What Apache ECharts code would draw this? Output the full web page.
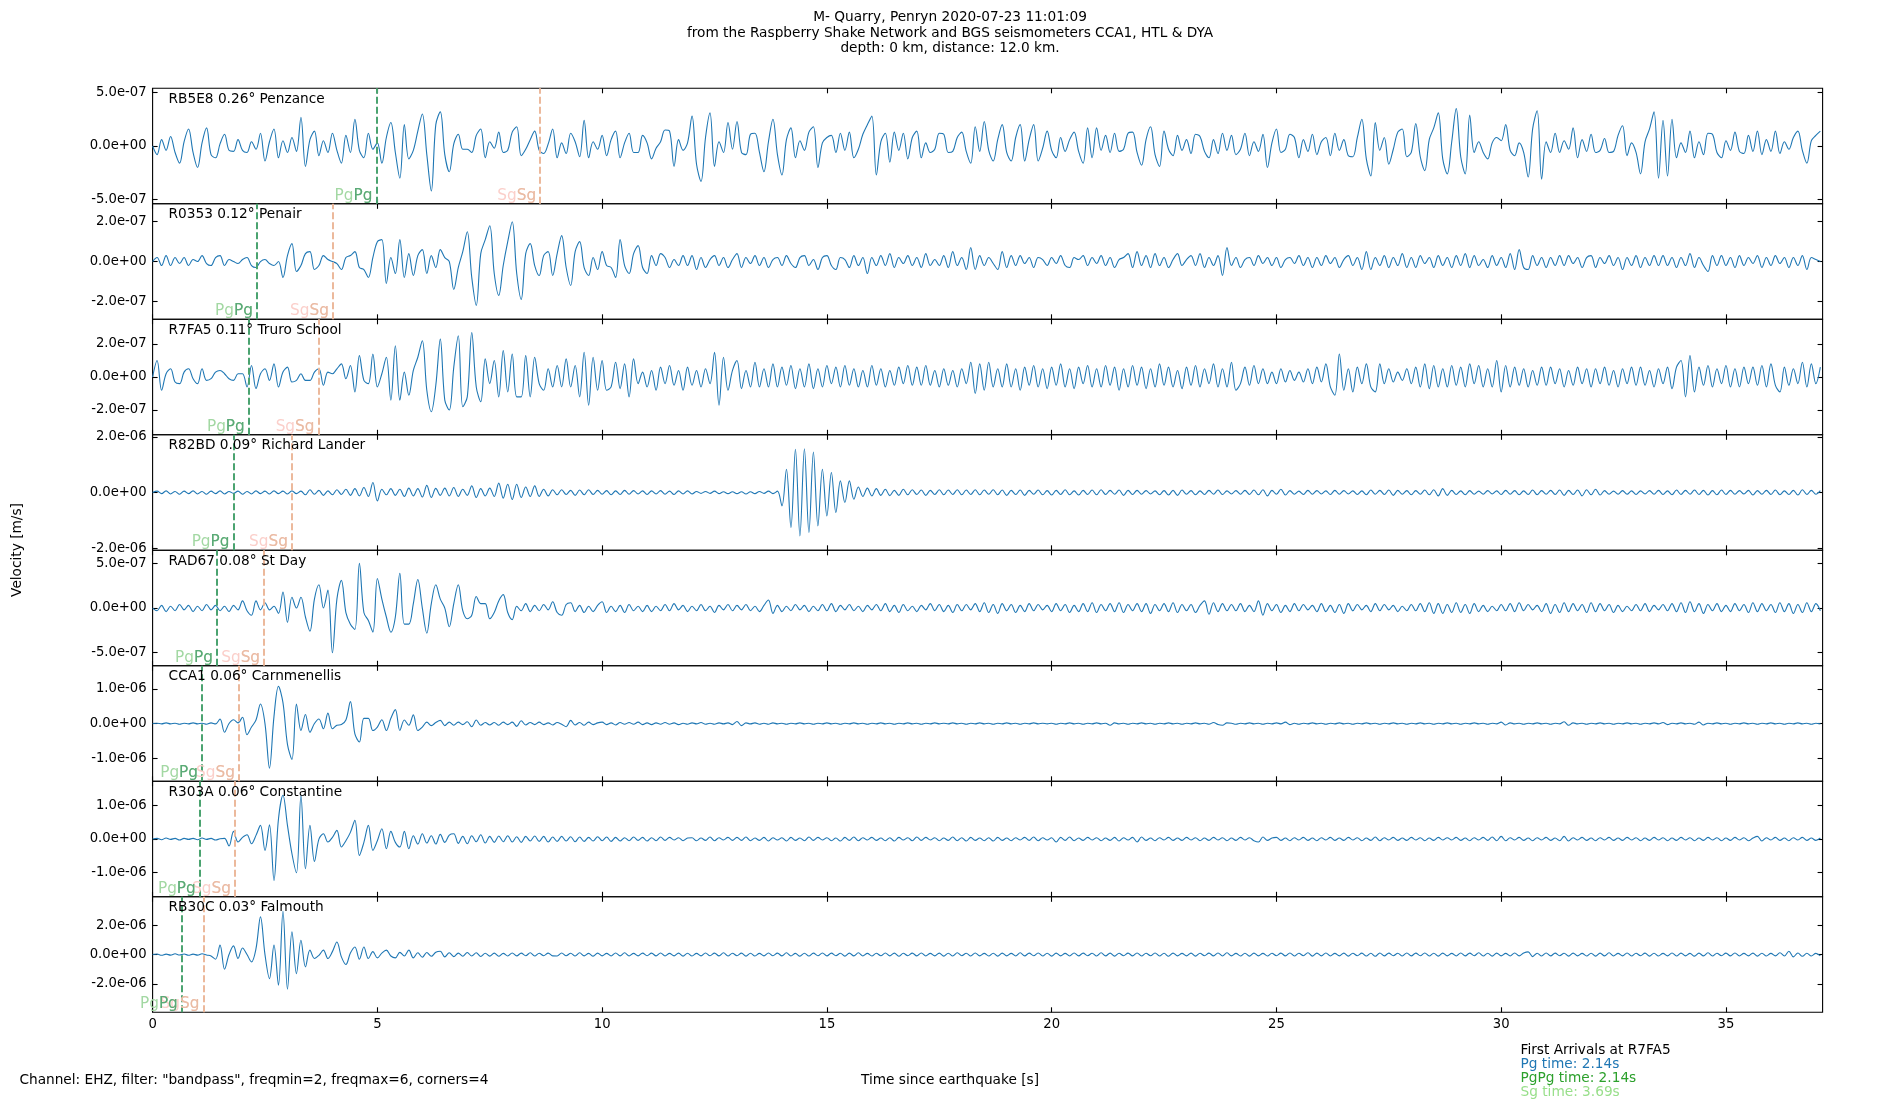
<!DOCTYPE html>
<html><head><meta charset="utf-8">
<script src="https://cdn.jsdelivr.net/npm/echarts@6/dist/echarts.min.js"></script>
<style>html,body{margin:0;padding:0;background:#fff}#c{width:1900px;height:1100px}</style>
</head><body><div id="c"></div>
<script>
const stations = ['RB5E8','R0353','R7FA5','R82BD','RAD67','CCA1','R303A','RB30C'];
const distances = ['0.26','0.12','0.11','0.09','0.08','0.06','0.06','0.03'];
const places = ['Penzance','Penair','Truro School','Richard Lander','St Day','Carnmenellis','Constantine','Falmouth'];
const pgTimes = [4.98,2.32,2.14,1.80,1.43,1.10,1.05,0.65];
const sgTimes = [8.62,4.01,3.69,3.10,2.48,1.92,1.83,1.13];
const yLimits = [5.4e-7,2.9e-7,3.5e-7,2.08e-6,6.46e-7,1.66e-6,1.73e-6,3.94e-6];
const yTicks = [5e-7,2e-7,2e-7,2e-6,5e-7,1e-6,1e-6,2e-6];
const xTicks = [0,5,10,15,20,25,30,35];
const X_MAX = 37.15;
const DT = 0.1;      // sample step of the arrays below [s]
const UNIT = 1e-8;   // arrays are in units of 1e-8 m/s

const trRB5E8 = [
0,-8,6,-4,9,-6,-16,4,16,-6,
-20,3,17,-8,-11,2,11,-4,-5,6,
-4,-6,4,-3,12,-14,4,16,-11,5,
-6,8,-5,27,-19,6,14,-9,5,-6,
12,-4,-16,10,-6,25,-4,-11,12,-3,
3,-16,8,22,-6,-30,20,-12,-4,14,
30,-8,-42,20,32,-8,-24,2,11,-3,
-3,-6,10,16,-11,4,-2,13,-6,-4,
13,18,-9,-3,6,14,-4,-7,2,16,
-11,3,-7,12,4,-10,24,-11,4,-3,
10,-9,6,14,-11,3,12,-6,-6,10,
3,-12,-2,4,15,14,-19,6,-4,3,
28,-17,-33,8,31,-19,4,-6,22,-3,
23,-6,-8,11,12,-6,-24,4,25,-8,
-27,6,17,-11,5,-4,13,18,-20,3,
8,10,-6,12,-4,13,-11,-3,11,20,
28,-27,4,12,-15,13,-4,12,-12,8,
14,-11,3,-6,-3,12,11,-6,-5,8,
13,-5,-16,18,-5,23,-4,-14,6,20,
-6,-14,8,20,-14,6,20,-14,-2,14,
-4,-11,8,-5,6,13,-5,-16,17,-11,
17,-4,10,-6,12,-5,-3,12,13,-6,
-18,6,18,-8,-19,14,-3,-9,10,-4,
6,-7,11,9,-5,-11,6,-7,12,-4,
10,-8,-3,12,-9,4,-5,11,-20,3,
16,-6,-3,11,8,-11,6,-5,11,-8,
4,8,-9,12,-4,6,-9,-10,8,25,
-12,-28,22,-4,8,-17,-3,13,16,-10,
-6,21,-10,-23,6,17,31,-12,-26,4,
35,-10,-26,29,-6,4,-6,-12,3,8,
5,20,-4,-9,3,-6,-29,16,33,-31,
4,-6,12,-6,5,-3,17,-11,6,-5,
11,-6,-4,7,-6,-5,10,19,-9,3,
-6,-26,4,16,32,-30,24,-28,25,-11,
3,-6,14,-11,4,-8,12,11,-6,-11,
5,-4,13,-5,-7,10,-5,14,-8,6,
-5,14,-7,4,-3,8,14,-4,-16,5,
10,14];

const trR0353 = [
0,2,-2,3,-2,2,-1,2,-2,1,
0,3,-1,-2,2,3,-2,1,0,-1,
1,2,-2,-3,0,1,-1,-2,0,-8,
3,9,-5,-2,4,5,-4,-2,3,1,
0,-1,-4,2,3,5,-3,-4,-8,2,
10,11,-11,2,-6,11,-8,4,-7,3,
6,-6,3,-3,6,2,0,-14,-3,5,
15,-8,-22,4,11,18,-6,-17,-2,10,
20,-6,-19,4,9,-2,-7,3,5,-7,
4,13,-3,-12,5,10,-3,-7,2,-4,
5,-2,-3,-8,11,-2,-6,4,8,-3,
-6,3,-2,4,2,-3,1,-2,3,-2,
3,-4,2,-3,1,3,-2,2,-3,1,
4,-3,2,-1,3,-2,2,-3,1,2,
-2,3,-1,-3,2,3,-2,1,-4,2,
3,-2,-4,2,1,-3,3,-2,2,-6,
2,-2,3,-2,4,-3,2,-1,3,-2,
2,-3,4,-2,1,-2,3,-3,5,-2,
2,-4,7,-4,3,-2,2,-1,-4,5,
-3,3,-2,3,-1,2,-3,2,1,-2,
2,-1,3,-2,-3,2,1,3,-2,2,
-1,3,-2,2,-3,1,2,4,-3,5,
-2,3,-3,4,-2,2,-3,1,4,-2,
1,3,-2,4,-3,2,-2,3,-7,7,
-2,2,-3,1,2,-2,3,-1,2,-2,
2,-3,1,2,-1,3,-2,2,-3,2,
-2,3,-1,2,-3,1,3,-2,2,-4,
5,-4,2,-2,3,-3,2,-2,4,-3,
2,-3,3,-1,2,-3,3,-2,2,-3,
3,-2,4,-3,3,-2,1,-3,3,-2,
2,-3,4,-4,6,-3,-4,3,-2,2,
-3,2,-2,3,-2,3,-1,2,-3,2,
3,-3,2,-1,3,-2,2,-4,2,-2,
3,-3,2,-2,3,-2,3,-2,2,-3,
2,-2,4,-3,2,-2,-5,3,-2,3,
-2,2,-3,3,-2,2,-1,3,-3,2,
-2,3,-1,2,-3,2,-2,3,-4,2,
1,0];

const trR7FA5 = [
0,10,-8,2,5,-3,-4,3,5,-1,
-4,5,-2,-1,3,4,2,-1,-2,2,
2,-6,7,-7,2,5,-2,8,-6,3,
6,-3,-2,2,-2,-2,3,5,-5,3,
2,5,8,-1,7,-9,13,-2,-4,14,
-6,2,12,-14,19,-14,3,-11,4,12,
22,-8,-21,-5,23,-14,-20,6,25,-18,
-12,27,-6,-15,11,-4,10,-12,16,-9,
14,-12,-12,13,-12,12,-4,-8,5,-6,
7,-6,11,-6,7,-12,15,-17,12,-8,
10,-8,-6,9,-7,8,-12,11,-4,3,
-6,4,-8,6,-4,7,-5,4,-8,6,
-5,4,-6,5,-4,15,-17,12,-8,4,
10,-7,4,-6,9,-6,5,-6,8,-6,
6,-5,7,-7,5,-6,8,-7,5,-6,
7,-4,6,-6,7,-5,5,-6,4,-6,
7,-5,5,-6,4,-5,6,-4,7,-5,
6,-5,7,-5,4,-6,5,-5,4,-6,
5,-4,9,-10,8,-8,9,-6,5,-6,
8,-6,5,-8,6,-5,7,-6,5,-7,
6,-5,8,-6,5,-7,6,-4,7,-6,
5,-6,7,-5,6,-8,5,-6,7,-5,
6,-7,5,-6,8,-5,6,-6,4,-7,
6,-5,7,-6,5,-4,8,-6,5,-6,
9,-8,-4,6,-5,7,-4,5,-4,3,
-4,5,-3,4,-2,3,-3,5,-4,6,
-3,8,-6,-11,14,-8,5,-9,6,-4,
8,-6,-9,8,-4,5,-3,3,-2,5,
-4,6,-6,8,-7,7,-6,5,-6,7,
-5,6,-6,8,-4,7,-6,5,-6,10,
-9,7,-6,6,-5,5,-6,4,-5,6,
-5,6,-4,5,-6,4,-5,6,-4,5,
-6,5,-4,6,-5,4,-6,5,-4,6,
-5,6,-5,4,-6,5,-4,6,-7,6,
10,-12,13,-9,6,-5,7,-6,5,-4,
7,-6,5,-6,6,-4,6,-5,7,-6,
8,-5,-9,6,-5,5,-4,9,-6,8,
-4,6];

const trR82BD = [
0,5,-4,6,-5,4,-6,5,-4,6,
-5,4,-6,5,-4,6,-5,4,-3,5,
-6,4,-5,6,-4,5,-5,6,-4,5,
-5,6,-4,5,-8,10,-6,8,-10,6,
-8,10,-7,12,-10,14,-12,18,-14,36,
-30,12,-8,14,-10,12,-14,16,-12,14,
-16,26,-18,15,-10,16,-12,18,-14,12,
-10,24,-18,14,-12,16,-14,34,-20,30,
-25,30,-18,20,-14,24,-14,12,-12,10,
-8,10,-7,8,-10,9,-8,10,-7,8,
-6,7,-8,6,-7,8,-6,7,-5,6,
-7,6,-5,7,-6,5,-7,6,-5,6,
-5,4,-3,4,-3,5,-4,3,-4,3,
-4,3,-5,3,-4,4,-3,5,-4,5,
-48,84,-126,156,-156,158,-144,146,-120,84,
-84,72,-72,42,-36,42,-24,20,-14,16,
-12,14,-10,12,-11,8,-10,12,-8,10,
-7,9,-10,8,-7,10,-8,9,-7,10,
-8,9,-7,10,-8,9,-6,10,-8,9,
-10,8,-7,9,-10,8,-6,9,-8,7,
-9,8,-7,10,-8,6,-9,8,-7,9,
-8,10,-7,8,-6,9,-10,8,-7,8,
-6,7,-5,6,-8,7,-9,8,-10,9,
-6,7,-8,6,-7,8,-6,9,-7,6,
-5,7,-6,8,-7,9,-8,10,-12,8,
-6,12,-9,7,-6,5,-7,8,-6,7,
-5,6,-7,8,-6,7,-5,6,-7,6,
-8,9,-6,8,-7,9,-10,8,-6,7,
-8,7,-6,9,-8,10,-12,14,-10,8,
-7,6,-8,7,-6,5,-6,7,-5,6,
-7,8,-6,7,-8,6,-7,9,-8,7,
-6,8,-7,9,-10,8,-7,9,-12,10,
-8,12,-9,7,-6,5,-6,7,-6,6,
-7,6,-5,7,-6,8,-7,6,-8,9,
-7,8,-6,9,-7,8,-9,7,-8,9,
-7,8,-6,7,-5,8,-9,7,-6,8,
-7,9,-8,6,-7,8,-9,10,-7,8,
-6,7];

const trRAD67 = [
0,-3,3,-4,2,-3,4,-2,3,-4,
2,-3,4,-2,3,-3,2,-4,3,-2,
8,-3,-8,8,-2,6,-2,2,-6,18,
-16,12,0,12,-10,-26,10,26,0,20,
-50,10,31,-5,-18,-24,50,-5,-14,-27,
33,10,-10,-27,-10,39,-18,-18,5,32,
0,-28,5,26,10,0,-21,5,26,-3,
-12,-8,13,5,5,-12,-5,8,15,-5,
-13,2,-3,5,-4,3,-3,4,-2,7,
-5,-8,4,6,-4,3,-5,2,-4,3,
7,-5,2,-4,3,-5,4,-3,2,-4,
3,-4,2,-3,4,-3,5,-2,3,-4,
2,-3,4,-3,2,-5,3,-2,4,-3,
3,-2,4,-3,2,-4,3,9,-6,3,
-4,2,-3,4,-2,3,-4,2,-3,4,
-3,5,-4,3,-2,4,-3,2,-4,3,
-2,4,-3,5,-4,3,-5,4,-3,2,
-4,3,-2,5,-3,4,-4,3,-5,4,
-3,4,-2,5,-4,6,-5,4,-6,5,
-3,4,-5,3,-4,5,-3,4,-2,3,
-4,5,-3,4,-5,3,-4,5,-4,6,
-5,4,-3,5,-4,6,-5,4,-3,5,
-4,5,-6,4,-3,5,-4,6,-5,4,
-3,4,-5,3,8,-7,6,-4,5,-3,
4,-3,5,-4,3,-4,8,-8,5,-3,
4,-5,3,-4,5,-3,4,-2,3,-4,
5,-4,3,-5,4,-6,5,-3,4,-2,
3,-4,5,-3,4,-2,3,-4,2,-3,
4,-3,5,-4,6,-6,5,-6,4,-5,
6,-5,4,-6,5,-4,3,-4,2,-3,
4,-3,5,-4,6,-3,4,-2,3,-4,
5,-6,4,-5,6,-4,5,-3,4,-5,
6,-4,5,-3,4,-5,3,-4,2,-3,
4,-3,5,-4,3,-2,4,-3,5,-4,
6,-5,7,-4,5,-6,4,-3,5,-4,
3,-4,5,-3,4,-5,6,-4,5,-3,
4,-5,6,-4,5,-6,4,-5,6,-4,
5,-3];

const trCCA1 = [
0,1,-1,2,-1,1,-2,1,-1,2,
-1,1,-2,2,-1,13,-25,0,11,2,
18,-32,-10,10,56,0,-128,20,107,60,
-60,-103,56,-20,26,-25,0,13,-15,30,
-15,-5,-3,10,63,-30,-53,15,15,-20,
-10,11,-20,15,40,-20,10,-5,25,-20,
-10,4,-6,3,9,-6,4,-5,4,-3,
5,-9,10,-5,3,-4,3,-5,4,-3,
4,-8,8,-4,3,-3,4,-3,2,-4,
3,-2,-9,9,-4,3,-5,4,-3,2,
4,-3,2,-4,3,-2,3,-2,4,-3,
2,-3,2,-2,3,-2,2,-3,1,-2,
2,-1,3,-2,1,-2,2,-1,2,-3,
6,-6,2,-1,2,-2,1,-2,2,-1,
1,-2,1,-1,2,-1,1,-2,1,-1,
2,-1,1,-2,1,-1,2,-1,1,-2,
1,-1,2,-1,1,-2,1,-1,2,-1,
1,-2,1,-1,2,-1,1,-1,2,-1,
1,-2,1,-1,2,-1,1,-2,1,-1,
2,-1,1,-2,1,-1,2,-1,1,-1,
1,-2,1,-1,2,-1,1,-2,1,-1,
2,-1,1,-5,2,-1,1,-2,1,-1,
2,-1,1,-2,1,-1,2,-1,1,-2,
1,-1,2,-1,1,-2,3,-3,-5,2,
1,-2,1,-1,2,-1,1,-2,1,-1,
2,-1,4,-3,1,-2,1,-1,2,-1,
1,-2,1,-1,2,-1,1,-2,1,-1,
2,-1,1,-2,1,-1,2,-1,1,-2,
1,-1,2,-1,1,-2,1,-1,2,-1,
1,-2,1,-1,2,-1,1,-2,1,-1,
4,-4,2,-1,1,-2,1,-1,2,-1,
1,-2,1,-1,5,-5,2,-1,1,-2,
1,-1,2,-1,1,-2,1,-1,2,-1,
1,-2,1,-1,2,-1,3,-3,1,-1,
2,-1,1,-2,4,-4,1,-1,2,-1,
1,-2,1,-1,2,-1,1,-2,1,-1,
2,-1,1,-2,1,-1,2,-1,1,-2,
1,-1];

const trR303A = [
0,2,-2,3,-1,2,-3,2,-1,2,
-2,3,-1,2,-3,1,2,-21,23,-9,
5,13,-14,11,41,-34,43,-124,60,131,
41,-44,-101,131,-89,41,-67,0,16,-9,
5,26,-24,-5,20,56,-49,-10,41,-34,
-5,31,-29,23,-10,-24,23,-29,10,-15,
16,-12,10,-15,14,-10,12,16,-13,8,
-14,10,-8,13,-12,8,-10,9,-8,10,
-9,7,-10,8,-6,9,-7,8,-9,6,
-7,8,-6,7,-8,6,-7,5,-6,7,
-5,6,-7,5,-6,4,-5,6,-4,5,
-6,4,-5,6,-4,5,-3,4,-5,3,
4,-5,3,-4,6,-5,4,-3,5,-4,
5,-4,6,-5,3,-4,5,-6,4,-3,
4,-6,5,-4,3,-5,6,-4,5,-3,
4,-5,3,-6,5,-4,6,-5,4,-3,
5,-4,3,-5,4,-6,5,-3,4,-5,
6,-4,5,-3,4,-5,3,-4,6,-5,
4,-6,5,-4,3,-5,4,-6,5,-4,
3,-5,4,-3,5,-4,6,-5,4,-3,
4,-9,5,-4,6,-5,3,-4,5,-3,
4,-5,3,-4,5,-6,4,-3,5,-9,
6,-4,3,-5,4,-3,5,-4,3,-4,
5,-3,4,-5,3,-4,5,-3,4,-5,
3,-4,5,-3,4,-5,-9,6,-4,3,
5,-4,3,-5,4,-3,5,-4,3,-5,
4,-3,5,-4,3,-4,5,-3,4,-5,
3,-4,6,-5,4,-3,5,-4,3,-4,
5,-3,4,-5,3,-4,5,-3,4,-3,
5,-4,3,-5,4,-3,5,-4,6,-5,
8,-5,4,-3,5,-4,3,-5,4,-3,
5,-4,3,-5,8,-6,4,-3,5,-4,
3,-5,4,-3,5,-4,3,-4,5,-3,
4,-5,3,-4,5,-3,4,-5,3,-4,
5,-3,4,-5,3,-4,5,-3,4,-5,
3,-4,5,-3,4,-5,3,8,-6,4,
-3,5,-4,3,-5,4,-3,5,-4,3,
-4,3];

const trRB30C = [
0,4,-5,3,-4,5,-3,4,-5,3,
-4,5,-3,-10,-32,64,-100,0,59,-27,
45,0,-50,40,257,0,-164,64,-209,295,
-236,155,-130,98,-84,30,-27,-5,30,-27,
20,86,-16,-68,10,52,-32,52,-27,20,
-23,10,30,-10,-23,15,-10,30,-23,12,
-18,14,-12,16,23,-16,12,-14,10,-12,
14,-10,12,-13,9,-11,10,-12,8,-10,
11,-9,10,-8,12,-10,9,-8,10,-9,
-10,11,-8,9,-10,12,-9,8,-11,10,
-9,8,-10,11,-9,12,-10,8,-9,10,
-8,10,-9,11,-10,8,-9,10,-11,9,
-10,8,-9,11,-8,10,-9,12,-10,9,
-8,10,-11,9,-10,8,-9,11,-8,10,
-9,12,-10,8,-11,9,-10,10,-8,11,
-9,10,-8,9,-11,10,-9,12,-10,8,
-10,9,-8,11,-9,10,-12,9,-8,10,
-9,11,-10,8,-9,10,-11,9,-10,12,
-8,9,-10,11,-9,8,-10,9,-11,10,
-9,8,-10,12,-9,10,-8,11,-10,9,
-11,10,-9,8,-10,11,-9,10,-8,9,
-10,12,-9,10,-11,9,-8,10,-9,11,
-10,9,-8,11,-10,9,-12,10,-9,8,
-9,10,-11,9,-8,10,-9,11,-10,12,
-9,8,-10,9,-11,10,-9,8,-10,9,
-8,10,-9,11,-10,9,-8,12,-11,10,
-9,11,-10,8,-9,10,-11,9,-8,10,
-10,9,-12,11,-9,10,-8,9,-10,11,
-9,10,-8,11,-10,9,-11,10,-9,8,
-10,11,-9,10,-8,12,-10,9,-11,10,
-9,8,-10,11,-9,10,18,-14,9,-10,
11,-9,10,-8,9,-11,10,-9,8,-10,
9,-11,10,-9,12,-10,8,-9,11,-10,
9,-8,10,-11,9,-10,8,-9,11,-10,
10,-9,8,-11,10,-9,12,-10,9,-8,
10,-9,11,-10,8,-9,10,-11,9,-10,
8,-9,12,-10,23,-16,11,-12,9,-10,
8,-9];

const traces = [trRB5E8,trR0353,trR7FA5,trR82BD,trRAD67,trCCA1,trR303A,trRB30C];

const GL = 152.6, GR = 77.4, GT = 88.3, GH = 115.5;
const FONT = 'DejaVu Sans';

function sci(v){
  if (Math.abs(v) < 1e-20) return '0.0e+00';
  const s = v.toExponential(1);
  const parts = s.split('e');
  const sign = parts[1][0] === '-' ? '-' : '+';
  const d = parts[1].replace(/[+-]/,'').padStart(2,'0');
  return parts[0] + 'e' + sign + d;
}

const chart = echarts.init(document.getElementById('c'), null, {renderer:'canvas'});
const grids = [], xAxes = [], yAxes = [], series = [];
const tickStyle = {show:true, inside:true, length:5, lineStyle:{color:'#000', width:1.1}};
const noLine = {show:false, onZero:false};
for (let i = 0; i < 8; i++) {
  grids.push({left:GL, right:GR, top:GT + GH*i, height:GH, show:true, borderColor:'#000', borderWidth:1.1, backgroundColor:'transparent'});
  const last = i === 7;
  xAxes.push({type:'value', gridIndex:i, position:'bottom', min:0, max:X_MAX,
    axisLine:noLine, splitLine:{show:false},
    axisTick:Object.assign({customValues:xTicks}, tickStyle),
    axisLabel:{show:last, customValues:xTicks, color:'#000', fontFamily:FONT, fontSize:13.2, margin:6}});
  xAxes.push({type:'value', gridIndex:i, position:'top', min:0, max:X_MAX,
    axisLine:noLine, splitLine:{show:false},
    axisTick:Object.assign({customValues:xTicks}, tickStyle), axisLabel:{show:false}});
  const yv = [-yTicks[i], 0, yTicks[i]];
  yAxes.push({type:'value', gridIndex:i, position:'left', min:-yLimits[i], max:yLimits[i],
    axisLine:noLine, splitLine:{show:false},
    axisTick:Object.assign({customValues:yv}, tickStyle),
    axisLabel:{customValues:yv, formatter:sci, color:'#000', fontFamily:FONT, fontSize:13.2, margin:6}});
  yAxes.push({type:'value', gridIndex:i, position:'right', min:-yLimits[i], max:yLimits[i],
    axisLine:noLine, splitLine:{show:false},
    axisTick:Object.assign({customValues:yv}, tickStyle), axisLabel:{show:false}});
  series.push({type:'line', xAxisIndex:2*i, yAxisIndex:2*i,
    data: traces[i].map((v,k) => [+(k*DT).toFixed(2), v*UNIT]),
    showSymbol:false, symbol:'none', smooth:0.35, clip:true, animation:false,
    lineStyle:{color:'#1f77b4', width:1.1}, z:2,
    markLine:{silent:true, symbol:['none','none'], animation:false, label:{show:false},
      data:[{xAxis:pgTimes[i], lineStyle:{color:'#4ba370', width:2, type:[7,3]}},
            {xAxis:sgTimes[i], lineStyle:{color:'#ecb99c', width:2, type:[7,3]}}]}});
}

chart.setOption({animation:false, backgroundColor:'#fff', grid:grids, xAxis:xAxes, yAxis:yAxes, series:series});

const g = [];
function txt(x, y, text, opt){
  const o = Object.assign({size:13.7, fill:'#000', align:'left', va:'middle', rot:0, z:10}, opt||{});
  g.push({type:'text', x:x, y:y, rotation:o.rot, z:o.z, silent:true,
    style:{text:text, fill:o.fill, fontFamily:FONT, fontSize:o.size, align:o.align, verticalAlign:o.va}});
}
txt(950, 17, 'M- Quarry, Penryn 2020-07-23 11:01:09', {align:'center'});
txt(950, 33, 'from the Raspberry Shake Network and BGS seismometers CCA1, HTL & DYA', {align:'center'});
txt(950, 48.8, 'depth: 0 km, distance: 12.0 km.', {align:'center'});
for (let i = 0; i < 8; i++) {
  txt(GL + 16, GT + GH*i + 11, stations[i] + ' ' + distances[i] + '\u00b0 ' + places[i]);
  const yb = chart.convertToPixel({yAxisIndex:2*i}, -yLimits[i]);
  const xp = chart.convertToPixel({xAxisIndex:2*i}, pgTimes[i]);
  const xs = chart.convertToPixel({xAxisIndex:2*i}, sgTimes[i]);
  txt(xp - 4, yb - 8, 'PgPg', {size:15.3, fill:'#a3d8a3', align:'right', z:11});
  txt(xp - 4, yb - 8, 'Pg', {size:15.3, fill:'#5aa977', align:'right', z:12});
  txt(xs - 4, yb - 8, 'SgSg', {size:15.3, fill:'#fbcfca', align:'right', z:11});
  txt(xs - 4, yb - 8, 'Sg', {size:15.3, fill:'#e9bca3', align:'right', z:12});
}
txt(17.5, 550, 'Velocity [m/s]', {align:'center', rot:Math.PI/2});
txt(19.4, 1080, 'Channel: EHZ, filter: "bandpass", freqmin=2, freqmax=6, corners=4');
txt(950, 1080, 'Time since earthquake [s]', {align:'center'});
txt(1520.5, 1050.6, 'First Arrivals at ' + stations[2]);
txt(1520.5, 1064.4, 'Pg time: ' + pgTimes[2].toFixed(2) + 's', {fill:'#1f77b4'});
txt(1520.5, 1078.3, 'PgPg time: ' + pgTimes[2].toFixed(2) + 's', {fill:'#2ca02c'});
txt(1520.5, 1092.2, 'Sg time: ' + sgTimes[2].toFixed(2) + 's', {fill:'#98df8a'});
chart.setOption({graphic:g});
</script></body></html>
